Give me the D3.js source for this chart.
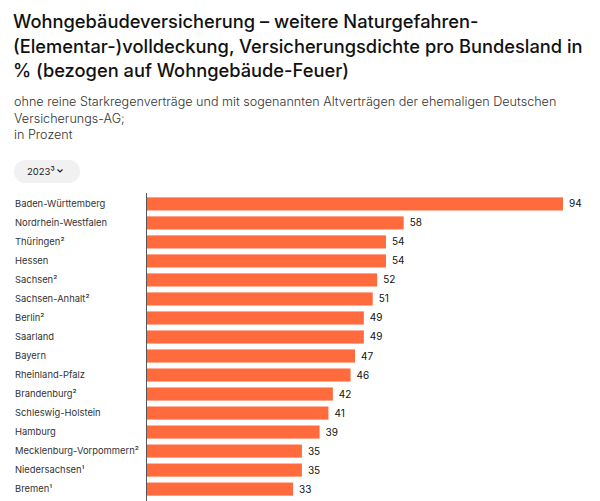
<!DOCTYPE html>
<html><head><meta charset="utf-8">
<script src="https://cdn.jsdelivr.net/npm/d3@7"></script>
<style>
html,body{margin:0;padding:0;background:#fff;}
svg{display:block;font-family:Inter,"Noto Sans",sans-serif;}
</style></head>
<body>
<svg id="c" width="600" height="501"></svg>
<script>
const titleLines = ["Wohngebäudeversicherung – weitere Naturgefahren-","(Elementar-)volldeckung,  Versicherungsdichte pro Bundesland in","% (bezogen auf Wohngebäude-Feuer)"];
const subtitleLines = ["ohne reine Starkregenverträge und mit sogenannten Altverträgen der ehemaligen Deutschen","Versicherungs-AG;","in Prozent"];
const yearLabel = "2023³";
const categories = ["Baden-Württemberg","Nordrhein-Westfalen","Thüringen²","Hessen","Sachsen²","Sachsen-Anhalt²","Berlin²","Saarland","Bayern","Rheinland-Pfalz","Brandenburg²","Schleswig-Holstein","Hamburg","Mecklenburg-Vorpommern²","Niedersachsen¹","Bremen¹"];
const values = [94,58,54,54,52,51,49,49,47,46,42,41,39,35,35,33];

const svg = d3.select("#c");
svg.append("g").selectAll("text").data(titleLines).join("text")
  .attr("x",13).attr("y",(d,i)=>28+i*24.5)
  .attr("font-size",18.3).attr("font-weight",500).attr("fill","#111")
  .text(d=>d);
svg.append("g").selectAll("text").data(subtitleLines).join("text")
  .attr("x",14).attr("y",(d,i)=>106+i*16.5)
  .attr("font-size",12.6).attr("font-weight",300).attr("fill","#333")
  .text(d=>d);

// dropdown
svg.append("rect").attr("x",14).attr("y",160).attr("width",66).attr("height",23).attr("rx",11.5).attr("fill","#f1f1f1");
svg.append("text").attr("x",27).attr("y",175).attr("font-size",9.5).attr("fill","#222").text(yearLabel);
svg.append("path").attr("d","M57.5,169.5 l2.5,2.5 l2.5,-2.5").attr("fill","none").attr("stroke","#222").attr("stroke-width",1.2);

const x = d3.scaleLinear().domain([0,94]).range([147,563]);
const y = d3.scaleBand().domain(categories).range([194.5,498.5]).paddingInner(0.31).paddingOuter(0.15);

svg.append("g").selectAll("rect").data(values).join("rect")
  .attr("x",x(0)).attr("y",(d,i)=>y(categories[i]))
  .attr("width",d=>x(d)-x(0)).attr("height",y.bandwidth())
  .attr("fill","#ff6b3d");

svg.append("line").attr("x1",146.5).attr("x2",146.5).attr("y1",193).attr("y2",501).attr("stroke","#555").attr("stroke-width",1);

svg.append("g").selectAll("text").data(categories).join("text")
  .attr("x",15).attr("y",d=>y(d)+y.bandwidth()/2).attr("dy","0.35em")
  .attr("font-size",9.4).attr("fill","#333").text(d=>d);

svg.append("g").selectAll("text").data(values).join("text")
  .attr("x",d=>x(d)+6).attr("y",(d,i)=>y(categories[i])+y.bandwidth()/2).attr("dy","0.35em")
  .attr("font-size",10).attr("fill","#111").text(d=>d);
</script>
</body></html>
